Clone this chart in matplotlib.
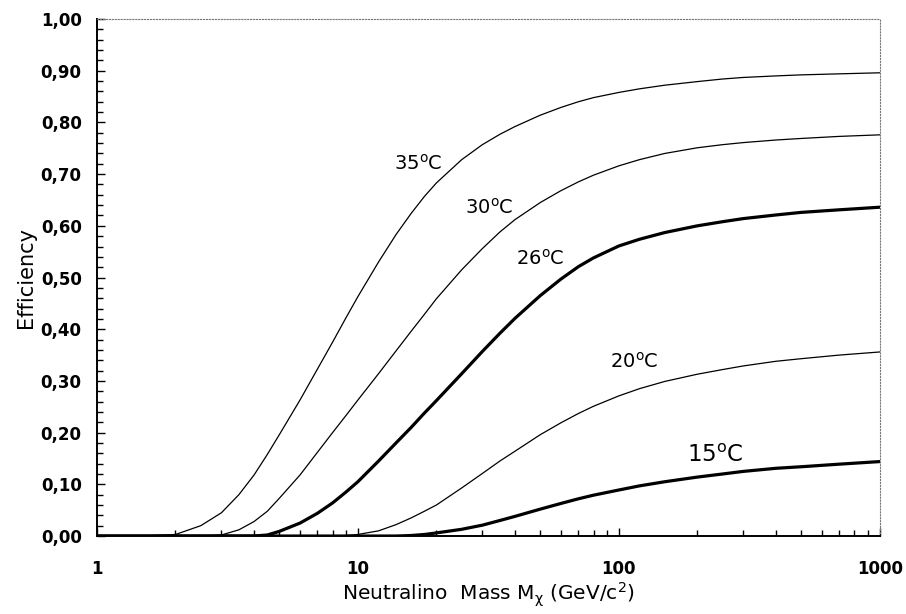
import matplotlib
matplotlib.use('Agg')
import matplotlib.pyplot as plt
import matplotlib.ticker as ticker

plt.rcParams['font.family'] = ['DejaVu Sans']
plt.rcParams['mathtext.fontset'] = 'dejavusans'
plt.rcParams['mathtext.default'] = 'regular'

# neutralino mass grid (GeV/c^2)
mass = [1, 1.5, 2, 2.5, 3, 3.5, 4, 4.5, 5, 6, 7, 8, 9, 10, 12, 14, 16, 18,
        20, 25, 30, 35, 40, 50, 60, 70, 80, 100, 120, 150, 200, 250, 300,
        400, 500, 700, 1000]

# detection efficiency at each operating temperature
eff_35 = [0, 0, 0.003, 0.02, 0.045, 0.08, 0.118, 0.158, 0.196, 0.263,
          0.323, 0.375, 0.422, 0.463, 0.530, 0.583, 0.624, 0.657, 0.683,
          0.728, 0.757, 0.777, 0.792, 0.814, 0.829, 0.840, 0.848, 0.858,
          0.865, 0.872, 0.879, 0.884, 0.887, 0.890, 0.892, 0.894, 0.896]
eff_30 = [0, 0, 0, 0, 0.002, 0.012, 0.028, 0.048, 0.073, 0.118, 0.162,
          0.200, 0.233, 0.263, 0.314, 0.358, 0.396, 0.429, 0.459, 0.515,
          0.556, 0.588, 0.612, 0.645, 0.668, 0.685, 0.698, 0.716, 0.728,
          0.740, 0.751, 0.757, 0.761, 0.766, 0.769, 0.773, 0.776]
eff_26 = [0, 0, 0, 0, 0, 0, 0, 0.002, 0.009, 0.025, 0.044, 0.064, 0.085,
          0.105, 0.145, 0.180, 0.210, 0.238, 0.262, 0.314, 0.357, 0.392,
          0.421, 0.465, 0.497, 0.521, 0.538, 0.561, 0.574, 0.587, 0.600,
          0.608, 0.614, 0.621, 0.626, 0.631, 0.636]
eff_20 = [0, 0, 0, 0, 0, 0, 0, 0, 0, 0, 0, 0, 0.001, 0.003, 0.010, 0.022,
          0.035, 0.048, 0.060, 0.093, 0.121, 0.145, 0.164, 0.196, 0.219,
          0.237, 0.251, 0.271, 0.285, 0.299, 0.313, 0.322, 0.329, 0.338,
          0.343, 0.350, 0.356]
eff_15 = [0, 0, 0, 0, 0, 0, 0, 0, 0, 0, 0, 0, 0, 0, 0, 0, 0.001, 0.003,
          0.006, 0.013, 0.021, 0.030, 0.038, 0.052, 0.063, 0.072, 0.079,
          0.089, 0.097, 0.105, 0.114, 0.120, 0.125, 0.131, 0.134, 0.139,
          0.144]

fig = plt.figure(figsize=(9.06, 6.14), dpi=100)
ax = fig.add_axes([0.107, 0.127, 0.864, 0.842])

ax.plot(mass, eff_35, color='black', lw=0.9)
ax.plot(mass, eff_30, color='black', lw=0.9)
ax.plot(mass, eff_26, color='black', lw=2.3)
ax.plot(mass, eff_20, color='black', lw=0.9)
ax.plot(mass, eff_15, color='black', lw=2.3)

ax.text(17, 0.72, '35$^{o}$C', fontsize=14, ha='center', va='center')
ax.text(32, 0.636, '30$^{o}$C', fontsize=14, ha='center', va='center')
ax.text(50, 0.536, '26$^{o}$C', fontsize=14, ha='center', va='center')
ax.text(115, 0.337, '20$^{o}$C', fontsize=14, ha='center', va='center')
ax.text(235, 0.155, '15$^{o}$C', fontsize=16.5, ha='center', va='center')

ax.set_xscale('log')
ax.set_xlim(1, 1000)
ax.set_ylim(0, 1.0)
ax.xaxis.set_major_locator(ticker.FixedLocator([1, 10, 100, 1000]))
ax.xaxis.set_major_formatter(ticker.FuncFormatter(lambda v, p: f'{v:g}'))
ax.xaxis.set_minor_locator(ticker.LogLocator(base=10, subs=range(2, 10)))
ax.xaxis.set_minor_formatter(ticker.NullFormatter())
ax.yaxis.set_major_locator(ticker.MultipleLocator(0.1))
ax.yaxis.set_minor_locator(ticker.MultipleLocator(0.02))
ax.yaxis.set_major_formatter(
    ticker.FuncFormatter(lambda v, p: f'{v:.2f}'.replace('.', ',')))

ax.tick_params(which='both', direction='in', top=False, right=False,
               width=1.0, color='black')
ax.tick_params(which='major', length=6)
ax.tick_params(which='minor', length=4)
ax.tick_params(axis='y', which='major', pad=11)
ax.tick_params(axis='x', which='major', pad=17)
for lab in ax.get_xticklabels() + ax.get_yticklabels():
    lab.set_fontsize(12)
    lab.set_fontweight('bold')

for side in ('left', 'bottom'):
    ax.spines[side].set_linewidth(1.4)
for side in ('top', 'right'):
    ax.spines[side].set_linestyle(':')
    ax.spines[side].set_linewidth(0.8)
    ax.spines[side].set_color('#777777')

ax.set_ylabel('Efficiency', fontsize=15, labelpad=3)
ax.set_xlabel(r'Neutralino  Mass M$_{\chi}$ (GeV/c$^{2}$)', fontsize=14.5,
              labelpad=2)

fig.savefig('out.png', dpi=100)
